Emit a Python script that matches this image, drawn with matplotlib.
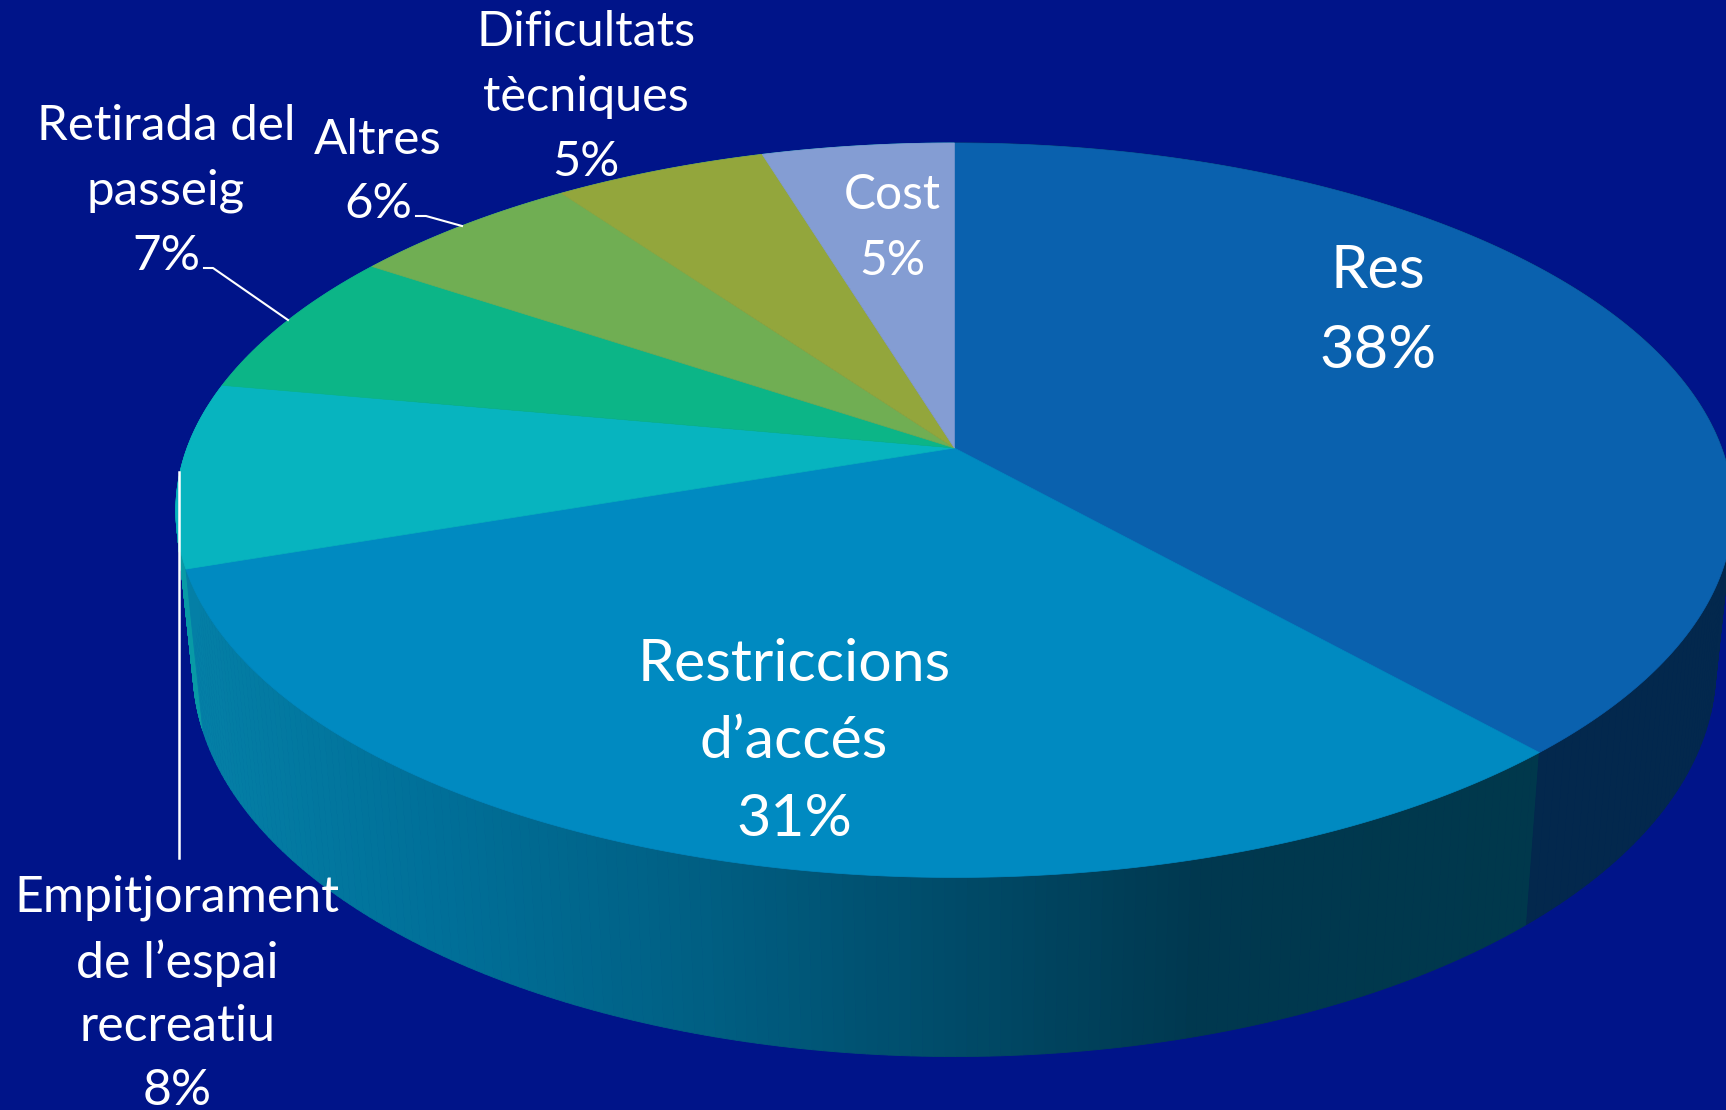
import matplotlib
matplotlib.use("Agg")
import matplotlib.pyplot as plt
from matplotlib.collections import PolyCollection
from matplotlib.patches import Polygon
import numpy as np

plt.rcParams["font.family"] = ["Lato", "DejaVu Sans"]

# Valors llegits del gràfic (percentatges, sentit horari des de dalt)
labels = [
    "Res\n38%",
    "Restriccions\nd’accés\n31%",
    "Empitjorament\nde l’espai\nrecreatiu\n8%",
    "Retirada del\npasseig\n7%",
    "Altres\n6%",
    "Dificultats\ntècniques\n5%",
    "Cost\n5%",
]
shares = [38.4, 31.4, 8.1, 6.5, 5.7, 5.2, 4.7]
top_colors = ["#0a61ae", "#008ac1", "#07b4bf", "#0cb587", "#70ae53", "#93a63c", "#849dd3"]
label_pos = [(1378, 311), (794, 742), (177, 994), (166, 191), (378, 172), (586, 97), (892, 228)]
label_size = [43, 42.5, 36, 35.5, 35.5, 35, 34.5]
label_spacing = [1.58, 1.56, 1.47, 1.57, 1.57, 1.57, 1.6]

BG = "#001489"
CX, CY = 954.4, 448.0
RX, RY, K = 767.3, 356.7, 0.1694
# disc inferior
BOT_X, BOT_M, BOT_Y = 0.978, 1.057, 602.6

# gradient del lateral segons x
grad_x = [190, 440, 700, 900, 1200, 1526]
grad_r = [4, 0, 0, 0, 0, 0]
grad_g = [127, 111, 95, 79, 56, 56]
grad_b = [166, 152, 131, 110, 79, 76]


def top_point(theta):
    x = np.sin(theta)
    y = np.cos(theta)
    s = 1 / (1 + K * y)
    return CX + RX * x * s, CY - RY * y * s


def bottom_point(theta):
    sx, sy = top_point(theta)
    return CX + BOT_X * (sx - CX), BOT_Y + BOT_M * (sy - CY)


def side_color(i, x):
    if i == 0:
        return "#03284d"
    if i == 2:
        return "#089aa6"
    if i > 2:
        return "#007a9f"
    return (
        np.interp(x, grad_x, grad_r) / 255,
        np.interp(x, grad_x, grad_g) / 255,
        np.interp(x, grad_x, grad_b) / 255,
    )


fig = plt.figure(figsize=(17.26, 11.10), dpi=100, facecolor=BG)
ax = fig.add_axes([0, 0, 1, 1])
ax.set_xlim(0, 1726)
ax.set_ylim(1110, 0)
ax.axis("off")

edges = np.cumsum([0] + shares) / sum(shares) * 2 * np.pi

# Lateral, del darrere cap endavant perquè les tires amagades quedin a sota
for i in reversed(range(len(shares))):
    th = np.linspace(edges[i], edges[i + 1], 161)
    tx, ty = top_point(th)
    bx, by = bottom_point(th)
    quads = []
    cols = []
    for j in range(len(th) - 1):
        quads.append([(tx[j], ty[j]), (tx[j + 1], ty[j + 1]), (bx[j + 1], by[j + 1]), (bx[j], by[j])])
        cols.append(side_color(i, (tx[j] + tx[j + 1]) / 2))
    ax.add_collection(PolyCollection(quads, facecolors=cols, edgecolors=cols, linewidths=0.6, zorder=1))

# Cara superior
for i in range(len(shares)):
    th = np.linspace(edges[i], edges[i + 1], 200)
    tx, ty = top_point(th)
    pts = [(CX, CY)] + list(zip(tx, ty))
    ax.add_patch(Polygon(pts, closed=True, facecolor=top_colors[i], edgecolor=top_colors[i], linewidth=0.5, zorder=2))

# Línies guia
ax.plot([204, 213, 288], [268, 268, 320], color="white", lw=1.5, zorder=3)
ax.plot([416, 426, 462], [216, 216, 226], color="white", lw=1.5, zorder=3)
ax.plot([179, 179], [472, 858], color="white", lw=1.8, zorder=3)

# Etiquetes
for txt, pos, size, sp in zip(labels, label_pos, label_size, label_spacing):
    ax.text(pos[0], pos[1], txt, color="white", fontsize=size, ha="center", va="center",
            multialignment="center", linespacing=sp, zorder=4)

fig.savefig("out.png", dpi=100, facecolor=BG)
